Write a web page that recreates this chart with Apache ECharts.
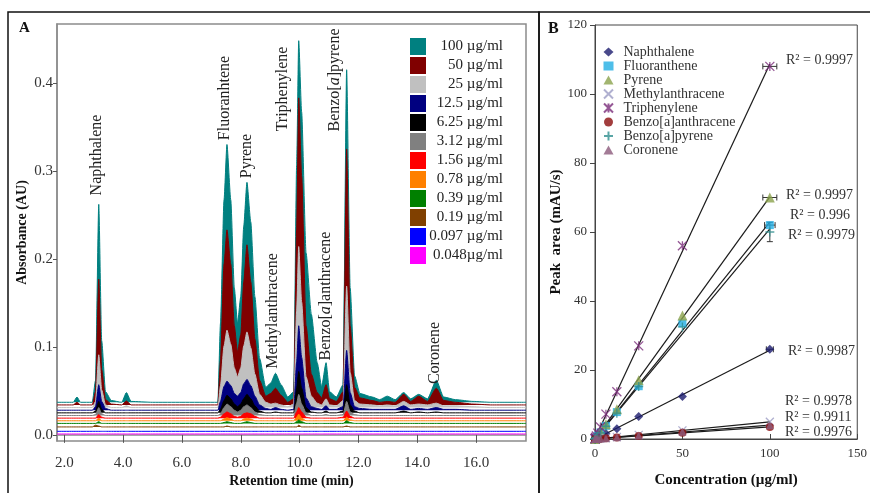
<!DOCTYPE html>
<html>
<head>
<meta charset="utf-8">
<script src="https://cdn.jsdelivr.net/npm/echarts@6/dist/echarts.min.js"></script>
<style>
  html, body { margin: 0; padding: 0; background: #fff; }
  #main { width: 870px; height: 493px; }
</style>
</head>
<body>
<div id="main"></div>
<script>
// ---- panel A : chromatograms (height above each trace's own baseline, AU) ----
const times = [
  1.75, 2.30, 2.43, 2.55, 2.95, 3.06, 3.17, 3.27, 3.40, 3.60,
  3.95, 4.11, 4.27, 5.00, 6.00, 7.22, 7.31, 7.43, 7.53, 7.66,
  7.78, 7.89, 8.00, 8.10, 8.21, 8.34, 8.48, 8.64, 8.85, 9.02,
  9.18, 9.37, 9.60, 9.80, 9.90, 9.97, 10.07, 10.22, 10.40, 10.60,
  10.75, 10.90, 11.02, 11.25, 11.48, 11.60, 11.72, 11.87, 12.05, 12.47,
  12.72, 12.98, 13.25, 13.54, 13.78, 14.05, 14.35, 14.65, 14.90, 15.30,
  15.90, 16.50, 17.70
];
const trace100 = [
  0, 0, 0.006, 0, 0, 0.025, 0.225, 0.07, 0.012, 0.002,
  0, 0.011, 0.001, 0, 0, 0, 0.09, 0.23, 0.293, 0.23,
  0.13, 0.09, 0.12, 0.2, 0.25, 0.205, 0.12, 0.05, 0.017, 0.022,
  0.033, 0.02, 0.006, 0.012, 0.27, 0.411, 0.33, 0.17, 0.1, 0.045,
  0.018, 0.045, 0.012, 0.006, 0.02, 0.378, 0.13, 0.03, 0.01, 0.006,
  0.003, 0.007, 0.003, 0.011, 0.004, 0.009, 0.004, 0.025, 0.006, 0.003,
  0.001, 0, 0
];
const trace50 = [
  0, 0, 0.003, 0, 0, 0.015, 0.143, 0.04, 0.006, 0.001,
  0, 0.0045, 0, 0, 0, 0, 0.05, 0.16, 0.199, 0.16,
  0.09, 0.06, 0.08, 0.14, 0.182, 0.14, 0.075, 0.028, 0.01, 0.013,
  0.019, 0.011, 0.003, 0.007, 0.2, 0.349, 0.26, 0.09, 0.035, 0.014,
  0.008, 0.023, 0.007, 0.004, 0.015, 0.291, 0.09, 0.02, 0.008, 0.005,
  0.003, 0.004, 0.003, 0.012, 0.004, 0.010, 0.004, 0.019, 0.005, 0.003,
  0.001, 0, 0
];
const trace25 = [
  0, 0, 0, 0, 0, 0.007, 0.06, 0.02, 0.003, 0,
  0, 0.002, 0, 0, 0, 0, 0.025, 0.07, 0.088, 0.072,
  0.045, 0.035, 0.045, 0.07, 0.086, 0.068, 0.038, 0.015, 0.006, 0.004,
  0.005, 0.003, 0.001, 0.004, 0.11, 0.183, 0.12, 0.035, 0.013, 0.005,
  0.003, 0.010, 0.003, 0.002, 0.008, 0.138, 0.04, 0.008, 0.004, 0.003,
  0.002, 0.003, 0.002, 0.007, 0.003, 0.004, 0.003, 0.005, 0.002, 0.002,
  0.001, 0, 0
];
const trace12_5 = [
  0, 0, 0, 0, 0, 0.004, 0.029, 0.01, 0.002, 0,
  0, 0, 0, 0, 0, 0, 0.01, 0.027, 0.033, 0.028,
  0.019, 0.016, 0.02, 0.03, 0.035, 0.028, 0.016, 0.006, 0.002, 0.001,
  0.003, 0.001, 0, 0.001, 0.055, 0.096, 0.06, 0.014, 0.004, 0.002,
  0.001, 0.005, 0.001, 0.001, 0.004, 0.068, 0.02, 0.004, 0.002, 0.001,
  0.001, 0.001, 0.001, 0.005, 0.001, 0.002, 0.001, 0.003, 0.001, 0.001,
  0, 0, 0
];
const trace6_25 = [
  0, 0, 0, 0, 0, 0.002, 0.013, 0.004, 0, 0,
  0, 0, 0, 0, 0, 0, 0.004, 0.014, 0.020, 0.016,
  0.01, 0.007, 0.01, 0.016, 0.021, 0.016, 0.008, 0.002, 0, 0,
  0.001, 0, 0, 0, 0.028, 0.047, 0.028, 0.006, 0.001, 0,
  0, 0.002, 0, 0, 0.002, 0.032, 0.009, 0.002, 0, 0,
  0, 0, 0, 0.002, 0, 0.001, 0, 0.001, 0, 0,
  0, 0, 0
];
const trace3_12 = [
  0, 0, 0, 0, 0, 0.001, 0.009, 0.002, 0, 0,
  0, 0, 0, 0, 0, 0, 0.002, 0.009, 0.013, 0.010,
  0.006, 0.004, 0.006, 0.010, 0.012, 0.009, 0.004, 0.001, 0, 0,
  0, 0, 0, 0, 0.014, 0.024, 0.013, 0.003, 0, 0,
  0, 0.001, 0, 0, 0.001, 0.016, 0.004, 0.001, 0, 0,
  0, 0, 0, 0, 0, 0, 0, 0, 0, 0,
  0, 0, 0
];
const trace1_56 = [
  0, 0, 0, 0, 0, 0, 0.004, 0.001, 0, 0,
  0, 0, 0, 0, 0, 0, 0.001, 0.005, 0.007, 0.005,
  0.002, 0.001, 0.002, 0.005, 0.006, 0.005, 0.002, 0, 0, 0,
  0, 0, 0, 0, 0.007, 0.012, 0.007, 0.001, 0, 0,
  0, 0, 0, 0, 0.001, 0.008, 0.002, 0, 0, 0,
  0, 0, 0, 0, 0, 0, 0, 0, 0, 0,
  0, 0, 0
];
const trace0_78 = [
  0, 0, 0, 0, 0, 0, 0.003, 0, 0, 0,
  0, 0, 0, 0, 0, 0, 0, 0.002, 0.0035, 0.002,
  0, 0, 0, 0.002, 0.003, 0.002, 0, 0, 0, 0,
  0, 0, 0, 0, 0.004, 0.0075, 0.003, 0, 0, 0,
  0, 0, 0, 0, 0, 0.004, 0.001, 0, 0, 0,
  0, 0, 0, 0, 0, 0, 0, 0, 0, 0,
  0, 0, 0
];
const trace0_39 = [
  0, 0, 0, 0, 0, 0, 0.002, 0, 0, 0,
  0, 0, 0, 0, 0, 0, 0, 0.001, 0.002, 0.001,
  0, 0, 0, 0.001, 0.002, 0.001, 0, 0, 0, 0,
  0, 0, 0, 0, 0.002, 0.004, 0.002, 0, 0, 0,
  0, 0, 0, 0, 0, 0.003, 0.001, 0, 0, 0,
  0, 0, 0, 0, 0, 0, 0, 0, 0, 0,
  0, 0, 0
];
const trace0_19 = [
  0, 0, 0, 0, 0, 0.002, 0.001, 0, 0, 0,
  0, 0, 0, 0, 0, 0, 0, 0, 0.001, 0,
  0, 0, 0, 0, 0, 0, 0, 0, 0, 0,
  0, 0, 0, 0, 0, 0.002, 0, 0, 0, 0,
  0, 0, 0, 0, 0, 0.001, 0, 0, 0, 0,
  0, 0, 0, 0, 0, 0, 0, 0, 0, 0,
  0, 0, 0
];
const trace0_097 = [
  0, 0, 0, 0, 0, 0, 0, 0, 0, 0,
  0, 0, 0, 0, 0, 0, 0, 0, 0, 0,
  0, 0, 0, 0, 0, 0, 0, 0, 0, 0,
  0, 0, 0, 0, 0, 0, 0, 0, 0, 0,
  0, 0, 0, 0, 0, 0, 0, 0, 0, 0,
  0, 0, 0, 0, 0, 0, 0, 0, 0, 0,
  0, 0, 0
];
const trace0_048 = [
  0, 0, 0, 0, 0, 0, 0, 0, 0, 0,
  0, 0, 0, 0, 0, 0, 0, 0, 0, 0,
  0, 0, 0, 0, 0, 0, 0, 0, 0, 0,
  0, 0, 0, 0, 0, 0, 0, 0, 0, 0,
  0, 0, 0, 0, 0, 0, 0, 0, 0, 0,
  0, 0, 0, 0, 0, 0, 0, 0, 0, 0,
  0, 0, 0
];
const concLabels = ['100 µg/ml', '50 µg/ml', '25 µg/ml', '12.5 µg/ml', '6.25 µg/ml', '3.12 µg/ml',
  '1.56 µg/ml', '0.78 µg/ml', '0.39 µg/ml', '0.19 µg/ml', '0.097 µg/ml', '0.048µg/ml'];
const baselines = [0.037, 0.034, 0.031, 0.028, 0.025, 0.022, 0.019, 0.016, 0.013, 0.009, 0.004, 0.001];
const traces = [trace100, trace50, trace25, trace12_5, trace6_25, trace3_12,
  trace1_56, trace0_78, trace0_39, trace0_19, trace0_097, trace0_048];
const xTicksA = [2, 4, 6, 8, 10, 12, 14, 16];
const yTicksA = [0, 0.1, 0.2, 0.3, 0.4];

// ---- panel B : calibration ----
const conc = [0.048, 0.097, 0.19, 0.39, 0.78, 1.56, 3.12, 6.25, 12.5, 25, 50, 100];
const naphthalene = [0.01, 0.03, 0.05, 0.1, 0.2, 0.4, 0.8, 1.6, 3.0, 6.5, 12.3, 26.0];
const fluoranthene = [0.03, 0.06, 0.12, 0.24, 0.48, 0.95, 1.9, 3.8, 7.8, 15.3, 33.5, 62.0];
const pyrene = [0.03, 0.07, 0.13, 0.27, 0.54, 1.1, 2.1, 4.3, 8.6, 17.0, 35.8, 70.0];
const methylanthracene = [0.0, 0.01, 0.01, 0.02, 0.04, 0.08, 0.15, 0.3, 0.6, 1.2, 2.5, 5.0];
const triphenylene = [0.05, 0.1, 0.2, 0.42, 0.85, 1.7, 3.5, 7.2, 13.7, 27.0, 56.0, 108.0];
const benzoAAnthracene = [0.0, 0.0, 0.01, 0.01, 0.03, 0.05, 0.1, 0.2, 0.45, 0.9, 1.8, 3.5];
const benzoAPyrene = [0.03, 0.06, 0.11, 0.23, 0.45, 0.9, 1.8, 3.7, 7.5, 15.2, 32.5, 60.0];
const coronene = [0.0, 0.0, 0.01, 0.02, 0.03, 0.06, 0.12, 0.25, 0.5, 1.0, 2.1, 4.0];
const compounds = ['Naphthalene', 'Fluoranthene', 'Pyrene', 'Methylanthracene', 'Triphenylene',
  'Benzo[a]anthracene', 'Benzo[a]pyrene', 'Coronene'];
const areas = [naphthalene, fluoranthene, pyrene, methylanthracene, triphenylene,
  benzoAAnthracene, benzoAPyrene, coronene];
const r2Labels = ['R² = 0.9997', 'R² = 0.9997', 'R² = 0.996', 'R² = 0.9979', 'R² = 0.9987',
  'R² = 0.9978', 'R² = 0.9911', 'R² = 0.9976'];
// error bars at the top standards: x, y, x spread, y spread
const errX = [100, 100, 100, 100, 100];
const errY = [108, 70, 62, 60, 26];
const errXSpread = [4, 4, 3, 0, 2];
const errYSpread = [0, 0, 0, 2.8, 0];

const serif = '"Liberation Serif", "Times New Roman", serif';
const traceColors = ['#008080', '#800000', '#c0c0c0', '#000080', '#000000', '#808080',
  '#ff0000', '#ff8000', '#008000', '#804000', '#0000ff', '#ff00ff'];

const crossPath = 'path://M0,0L10,10M10,0L0,10';
const plusPath = 'path://M5,0L5,10M0,5L10,5';
const starPath = 'path://M0,0L10,10M10,0L0,10M5,0L5,10';
const markers = [
  {symbol: 'diamond', size: 9, color: '#1c1c6e'},
  {symbol: 'rect', size: 8, color: '#22aee4'},
  {symbol: 'triangle', size: 10, color: '#8ba34c'},
  {symbol: crossPath, size: 8, color: '#9c9cc4', stroke: true},
  {symbol: starPath, size: 9, color: '#7b2d7b', stroke: true},
  {symbol: 'circle', size: 8, color: '#8b0c0c'},
  {symbol: plusPath, size: 9, color: '#2f8f8f', stroke: true},
  {symbol: 'triangle', size: 8, color: '#8c5a7c'}
];

function linFit(xs, ys) {
  const n = xs.length;
  let sx = 0, sy = 0, sxy = 0, sxx = 0;
  for (let i = 0; i < n; i++) {
    sx += xs[i]; sy += ys[i]; sxy += xs[i] * ys[i]; sxx += xs[i] * xs[i];
  }
  const m = (n * sxy - sx * sy) / (n * sxx - sx * sx);
  return {m: m, b: (sy - m * sx) / n};
}

const myChart = echarts.init(document.getElementById('main'), null, {renderer: 'canvas'});

let series = [];

traces.forEach(function (tr, i) {
  series.push({
    type: 'line',
    name: concLabels[i],
    xAxisIndex: 0,
    yAxisIndex: 0,
    data: times.map(function (t, j) { return [t, baselines[i] + tr[j]]; }),
    symbol: 'none',
    smooth: 0.2,
    smoothMonotone: 'x',
    silent: true,
    lineStyle: {color: traceColors[i], width: 1},
    itemStyle: {color: traceColors[i]},
    areaStyle: {color: traceColors[i], opacity: 1, origin: baselines[i]}
  });
});

areas.forEach(function (ys, i) {
  const f = linFit(conc, ys);
  series.push({
    type: 'line',
    name: 'fit-' + compounds[i],
    xAxisIndex: 1,
    yAxisIndex: 1,
    data: [[0, f.b], [100, f.b + 100 * f.m]],
    symbol: 'none',
    silent: true,
    z: 2,
    lineStyle: {color: '#1a1a1a', width: 1.2}
  });
});

series.push({
  type: 'custom',
  name: 'errors',
  xAxisIndex: 1,
  yAxisIndex: 1,
  z: 3,
  silent: true,
  data: errX.map(function (x, i) { return [x, errY[i], errXSpread[i], errYSpread[i]]; }),
  renderItem: function (params, api) {
    const x = api.value(0), y = api.value(1), xe = api.value(2), ye = api.value(3);
    const st = {stroke: '#333', lineWidth: 1};
    const kids = [];
    if (xe) {
      const a = api.coord([x - xe, y]), b = api.coord([x + xe, y]);
      kids.push({type: 'line', shape: {x1: a[0], y1: a[1], x2: b[0], y2: b[1]}, style: st});
      kids.push({type: 'line', shape: {x1: a[0], y1: a[1] - 3, x2: a[0], y2: a[1] + 3}, style: st});
      kids.push({type: 'line', shape: {x1: b[0], y1: b[1] - 3, x2: b[0], y2: b[1] + 3}, style: st});
    }
    if (ye) {
      const a = api.coord([x, y - ye]), b = api.coord([x, y + ye]);
      kids.push({type: 'line', shape: {x1: a[0], y1: a[1], x2: b[0], y2: b[1]}, style: st});
      kids.push({type: 'line', shape: {x1: a[0] - 3, y1: a[1], x2: a[0] + 3, y2: a[1]}, style: st});
      kids.push({type: 'line', shape: {x1: b[0] - 3, y1: b[1], x2: b[0] + 3, y2: b[1]}, style: st});
    }
    return {type: 'group', children: kids};
  }
});

areas.forEach(function (ys, i) {
  const mk = markers[i];
  series.push({
    type: 'scatter',
    name: compounds[i],
    xAxisIndex: 1,
    yAxisIndex: 1,
    z: 4,
    data: conc.map(function (c, j) { return [c, ys[j]]; }),
    symbol: mk.symbol,
    symbolSize: mk.size,
    itemStyle: mk.stroke
      ? {color: 'rgba(0,0,0,0)', borderColor: mk.color, borderWidth: 1.3}
      : {color: mk.color}
  });
});

// rotated peak names (centre x, centre y)
const peakNames = [
  ['Naphthalene', 97, 155],
  ['Fluoranhtene', 225, 98],
  ['Pyrene', 247, 156],
  ['Methylanthracene', 273, 311],
  ['Triphenylene', 283, 89],
  ['Benzo[{i|a}]pyrene', 335, 80],
  ['Benzo[{i|a}]anthracene', 326, 296],
  ['Coronene', 435, 353]
];
const r2Pos = [[786, 60], [786, 195], [790, 215], [788, 235], [788, 351], [785, 401], [785, 417], [785, 432]];

let graphics = [
  {type: 'rect', shape: {x: 8, y: 12, width: 531, height: 500}, style: {fill: 'none', stroke: '#111', lineWidth: 1.5}, z: 10},
  {type: 'rect', shape: {x: 539, y: 12, width: 340, height: 500}, style: {fill: 'none', stroke: '#111', lineWidth: 1.5}, z: 10},
  {type: 'text', x: 19, y: 28, style: {text: 'A', fontFamily: serif, fontSize: 15, fontWeight: 'bold', fill: '#111', verticalAlign: 'middle'}},
  {type: 'text', x: 548, y: 29, style: {text: 'B', fontFamily: serif, fontSize: 16, fontWeight: 'bold', fill: '#111', verticalAlign: 'middle'}}
];
peakNames.forEach(function (p) {
  graphics.push({
    type: 'text', x: p[1], y: p[2], rotation: Math.PI / 2, z: 5,
    style: {
      text: p[0], fontFamily: serif, fontSize: 16, fill: '#222',
      align: 'center', verticalAlign: 'middle',
      rich: {i: {fontFamily: serif, fontSize: 16, fontStyle: 'italic', fill: '#222'}}
    }
  });
});
r2Labels.forEach(function (s, i) {
  graphics.push({
    type: 'text', x: r2Pos[i][0], y: r2Pos[i][1], z: 5,
    style: {text: s, fontFamily: serif, fontSize: 14, fill: '#333', verticalAlign: 'middle'}
  });
});

const option = {
  animation: false,
  backgroundColor: '#fff',
  grid: [
    {left: 57, top: 24, width: 469, height: 423, show: true, borderColor: '#8c8c8c', borderWidth: 1.5},
    {left: 595, top: 25, width: 270, height: 416, show: true, borderColor: '#444', borderWidth: 1}
  ],
  xAxis: [
    {
      type: 'value', gridIndex: 0, min: 1.75, max: 17.7,
      name: 'Retention time (min)', nameLocation: 'middle', nameGap: 33, nameMoveOverlap: false,
      nameTextStyle: {fontFamily: serif, fontSize: 14, fontWeight: 'bold', color: '#111'},
      axisLine: {lineStyle: {color: '#8c8c8c', width: 1.5}},
      axisTick: {customValues: xTicksA, length: 8, lineStyle: {color: '#555'}},
      axisLabel: {customValues: xTicksA, formatter: function (v) { return v.toFixed(1); },
        fontFamily: serif, fontSize: 15, color: '#333', margin: 15},
      splitLine: {show: false}
    },
    {
      type: 'value', gridIndex: 1, min: 0, max: 150, interval: 50,
      name: 'Concentration (µg/ml)', nameLocation: 'middle', nameGap: 34, nameMoveOverlap: false,
      nameTextStyle: {fontFamily: serif, fontSize: 15, fontWeight: 'bold', color: '#111'},
      axisLine: {lineStyle: {color: '#444'}},
      axisTick: {inside: true, length: 5, lineStyle: {color: '#444'}},
      axisLabel: {fontFamily: serif, fontSize: 13, color: '#333', margin: 8},
      splitLine: {show: false}
    }
  ],
  yAxis: [
    {
      type: 'value', gridIndex: 0, min: -0.007, max: 0.467,
      name: 'Absorbance (AU)', nameLocation: 'middle', nameGap: 28, nameMoveOverlap: false,
      nameTextStyle: {fontFamily: serif, fontSize: 14, fontWeight: 'bold', color: '#111'},
      axisLine: {lineStyle: {color: '#8c8c8c', width: 1.5}},
      axisTick: {customValues: yTicksA, length: 4, lineStyle: {color: '#555'}},
      axisLabel: {customValues: yTicksA, formatter: function (v) { return v.toFixed(1); },
        fontFamily: serif, fontSize: 15, color: '#333', margin: 4},
      splitLine: {show: false}
    },
    {
      type: 'value', gridIndex: 1, min: 0, max: 120, interval: 20,
      name: 'Peak  area (mAU/s)', nameLocation: 'middle', nameGap: 31, nameMoveOverlap: false,
      nameTextStyle: {fontFamily: serif, fontSize: 15, fontWeight: 'bold', color: '#111'},
      axisLine: {lineStyle: {color: '#444'}},
      axisTick: {length: 5, lineStyle: {color: '#444'}},
      axisLabel: {fontFamily: serif, fontSize: 13, color: '#333', margin: 8},
      splitLine: {show: false}
    }
  ],
  legend: [
    {
      data: concLabels, orient: 'vertical', left: 405, top: 33,
      itemWidth: 16, itemHeight: 17, itemGap: 2, icon: 'rect', selectedMode: false,
      formatter: function (name) { return '{r|' + name + '}'; },
      textStyle: {
        fontFamily: serif, fontSize: 15, color: '#222',
        rich: {r: {width: 72, align: 'right', fontFamily: serif, fontSize: 15, color: '#222'}}
      }
    },
    {
      data: compounds, orient: 'vertical', left: 598, top: 40,
      itemWidth: 10, itemHeight: 9, itemGap: 0, selectedMode: false,
      textStyle: {fontFamily: serif, fontSize: 14, color: '#333', lineHeight: 14, padding: [0, 0, 0, 5]}
    }
  ],
  graphic: graphics,
  series: series
};

myChart.setOption(option);
</script>
</body>
</html>
